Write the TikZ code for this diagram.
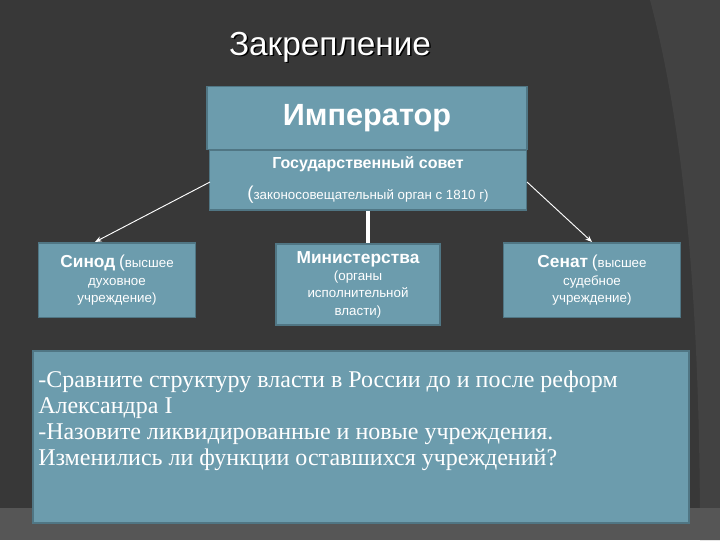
\documentclass[tikz,border=0pt]{standalone}
\usepackage{fontspec}
\setmainfont{Liberation Sans}
\newfontfamily\serifq{Liberation Serif}
\usetikzlibrary{arrows.meta}
\definecolor{bg}{RGB}{56,56,56}
\definecolor{bgl}{RGB}{66,66,66}
\definecolor{boxc}{RGB}{108,156,173}
\definecolor{boxe}{RGB}{80,118,132}
\tikzset{
  box/.style={draw=boxe, line width=1.2pt, fill=boxc, text=white, align=center, inner sep=2pt},
  conn/.style={draw=white, line width=0.7pt, -{Stealth[length=5pt,width=4pt]}},
}
\begin{document}
\begin{tikzpicture}[x=0.75pt,y=-0.75pt]
\fill[bg] (0,0) rectangle (720,540);
\fill[bgl] (650,0) .. controls (690,150) and (700,350) .. (700,540) -- (720,540) -- (720,0) -- cycle;
\fill[black!55!white!75!black] (0,508) rectangle (720,540);
\useasboundingbox (0,0) rectangle (720,540);
\node[text=black, font=\fontsize{25}{29}\selectfont] (t0) at (331.5,48.5) {Закрепление};
\node[text=white, font=\fontsize{25}{29}\selectfont] (title) at (330,47) {Закрепление};
\node[box, minimum width=240pt, minimum height=47pt, font=\fontsize{23}{27}\selectfont\bfseries] (emp) at (367,118) {Император};
\node[box, minimum width=238pt, minimum height=45pt, font=\fontsize{12}{16}\selectfont] (gs) at (368,180) {{\bfseries Государственный совет}\\[7pt]{\fontsize{14}{16}\selectfont(}{\fontsize{10}{12}\selectfont законосовещательный орган с 1810 г)}};
\node[box, minimum width=118pt, minimum height=56pt, font=\fontsize{10}{13}\selectfont, anchor=north] (syn) at (117,242) {{\fontsize{13}{15}\selectfont\bfseries Синод} {\fontsize{13}{15}\selectfont(}высшее\\духовное\\учреждение)};
\node[box, minimum width=123pt, minimum height=61pt, font=\fontsize{10}{13}\selectfont, anchor=north] (min) at (358,243) {{\fontsize{13}{15}\selectfont\bfseries Министерства}\\(органы\\исполнительной\\власти)};
\node[box, minimum width=133pt, minimum height=56pt, font=\fontsize{10}{13}\selectfont, anchor=north] (sen) at (592,242) {{\fontsize{13}{15}\selectfont\bfseries Сенат} {\fontsize{13}{15}\selectfont(}высшее\\судебное\\учреждение)};
\node[box, minimum width=492pt, minimum height=129pt, anchor=north west] (q) at (32,350) {};
\node[anchor=north west, align=left, text=white, font=\serifq\fontsize{18}{19.5}\selectfont, inner sep=0pt] (qt) at (38,371) {-Сравните структуру власти в России до и после реформ\\Александра I\\-Назовите ликвидированные и новые учреждения.\\Изменились ли функции оставшихся учреждений?};
\coordinate (gl) at (210,182);
\coordinate (gr) at (527,182);
\draw[conn] (gl) -- (syn.north -| 95,0);
\draw[conn] (gr) -- (sen.north -| 592,0);
\draw[draw=white, line width=3pt] (gs.south -| 368,0) -- (min.north -| 368,0);
\end{tikzpicture}
\end{document}
